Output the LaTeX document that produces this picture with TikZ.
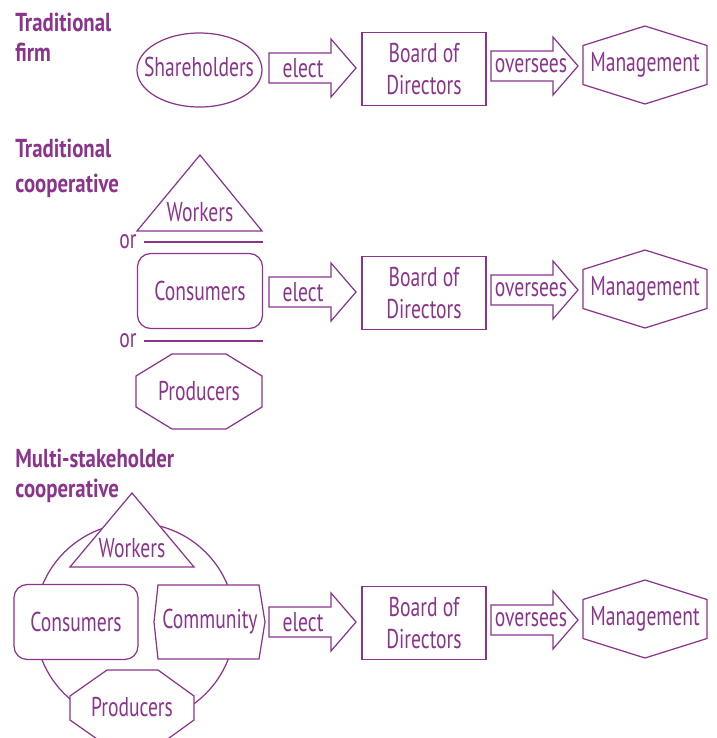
\documentclass[tikz,border=0pt]{standalone}
\usepackage{fontspec}
\setmainfont{PT Sans}[FakeStretch=0.72]
\newfontfamily\ttlfont{PT Sans}[FakeStretch=0.8]

\definecolor{coop}{RGB}{139,52,140}
\tikzset{
  shp/.style={draw=coop, line width=0.7pt, fill=white},
  lbl/.style={text=coop, font=\fontsize{15.5}{18.5}\selectfont, align=center, inner sep=1pt},
  ttl/.style={text=coop, font=\ttlfont\bfseries\fontsize{14.8}{17}\selectfont, align=left, anchor=north west, inner sep=0pt},
  orline/.style={draw=coop, line width=1.3pt},
}

\begin{document}
\begin{tikzpicture}[x=0.02cm, y=-0.02cm]
\useasboundingbox (0,0) rectangle (717,738);
\clip (0,0) rectangle (717,738);

% titles
\node[ttl] (t1) at (15,13) {Traditional\\firm};
\node[ttl] (t2) at (15,139) {Traditional\\[3pt]cooperative};
\node[ttl] (t3) at (15,449) {Multi-stakeholder\\cooperative};

% traditional firm
\draw[shp] (199.5,70) ellipse[x radius=62.5, y radius=37];
\node[lbl] (sh) at (199,67) {Shareholders};

% traditional cooperative
\draw[shp] (200,155) -- (262,231) -- (137,231) -- cycle;
\node[lbl] (wk2) at (200,212) {Workers};
\node[lbl] (or1) at (128,242) {or};
\coordinate (oe1) at (263,242);
\draw[orline, shorten <=3pt] (or1.east) -- (oe1);
\node[shp, lbl, rounded corners=7.5pt, minimum width=2.5cm, minimum height=1.5cm] (cs2) at (200,291) {Consumers};
\node[lbl] (or2) at (128,341) {or};
\coordinate (oe2) at (263,341);
\draw[orline, shorten <=3pt] (or2.east) -- (oe2);
\draw[shp] (172,354) -- (226,354) -- (262,376) -- (262,407) -- (226,429) -- (172,429) -- (136,407) -- (136,376) -- cycle;
\node[lbl] (pr2) at (199,391) {Producers};

% multi-stakeholder cooperative
\draw[shp, fill=none] (135,623) circle[radius=100];
\draw[shp] (132,493) -- (194,567) -- (70,567) -- cycle;
\node[lbl] (wk3) at (132,548) {Workers};
\node[shp, lbl, rounded corners=7.5pt, minimum width=2.48cm, minimum height=1.5cm] (cs3) at (76,622) {Consumers};
\draw[shp] (158,585) -- (259,585) -- (265,622) -- (259,659) -- (158,659) -- (154,622) -- cycle;
\node[lbl] (cm3) at (210,622) {Community};
\draw[shp] (107,670) -- (158,670) -- (194,696) -- (194,720) -- (158,746) -- (107,746) -- (70,720) -- (70,696) -- cycle;
\node[lbl] (pr3) at (132,707) {Producers};

% board and management, one row each
\foreach \r/\y in {1/68, 2/292, 3/622} {
  \draw[shp] (269,\y-15) -- (331,\y-15) -- (331,\y-29) -- (356,\y) -- (331,\y+29) -- (331,\y+15) -- (269,\y+15) -- cycle;
  \node[lbl] (el\r) at (303,\y) {elect};
  \node[shp, lbl, minimum width=2.48cm, minimum height=1.46cm] (bd\r) at (424,\y+1) {Board of\\Directors};
  \draw[shp] (491,\y-17) -- (553,\y-17) -- (553,\y-31) -- (578,\y-2) -- (553,\y+27) -- (553,\y+13) -- (491,\y+13) -- cycle;
  \node[lbl] (ov\r) at (531,\y-2) {oversees};
  \draw[shp] (645,\y-42) -- (707,\y-22.5) -- (707,\y+16.5) -- (645,\y+36) -- (583,\y+16.5) -- (583,\y-22.5) -- cycle;
  \node[lbl] (mg\r) at (645,\y-3) {Management};
}

\end{tikzpicture}
\end{document}
